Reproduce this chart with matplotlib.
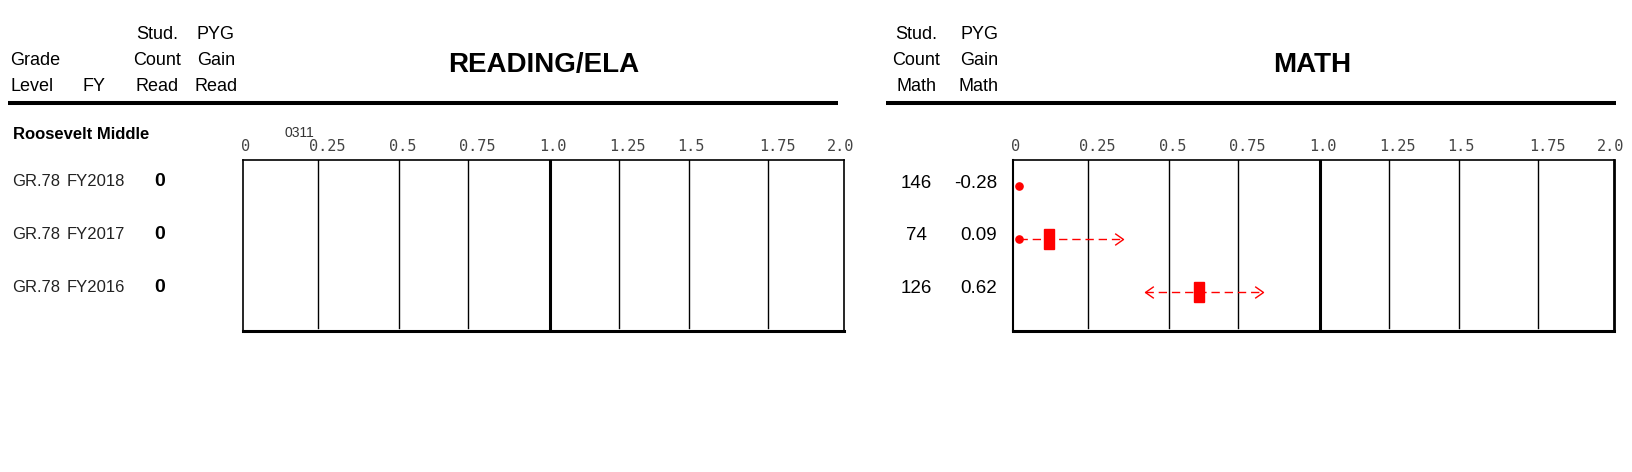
import numpy as np
import matplotlib
matplotlib.use("Agg")
import matplotlib.pyplot as plt
from matplotlib import font_manager
from matplotlib.transforms import blended_transform_factory
from matplotlib.patches import Rectangle
from matplotlib.path import Path
from matplotlib.lines import Line2D

W, H = 1632, 472

# ---- data ----
school = "Roosevelt Middle"
school_code = "0311"
grades = ["GR.78", "GR.78", "GR.78"]
years = ["FY2018", "FY2017", "FY2016"]
read_count = [0, 0, 0]
math_count = [146, 74, 126]
math_gain = [-0.28, 0.09, 0.62]
# where the marks sit on the 0..2 scale
math_lo = [0.02, 0.02, 0.44]
math_mid = [np.nan, 0.12, 0.619]
math_hi = [0.02, 0.366, 0.832]
math_lo_dot = [True, True, False]   # left end drawn as a dot, not an arrow
tick_labels = ["0", "0.25", "0.5", "0.75", "1.0", "1.25", "1.5", "1.75", "2.0"]
tick_pos = [0.01, 0.28, 0.53, 0.78, 1.03, 1.28, 1.49, 1.78, 1.99]
grid_pos = [0.25, 0.52, 0.75, 1.02, 1.25, 1.485, 1.747]

names = {f.name for f in font_manager.fontManager.ttflist}
have_narrow = "Liberation Sans Narrow" in names
narrow = ["Liberation Sans Narrow", "Liberation Sans"] if have_narrow else ["Liberation Sans"]
plt.rcParams["font.family"] = ["Liberation Sans", "DejaVu Sans"]

RED = "#ff0000"

fig = plt.figure(figsize=(W / 100, H / 100), dpi=100)


def fx(x):
    return x / W


def fy(y):
    return 1 - y / H


def panel(left):
    ax = fig.add_axes([fx(left), fy(331), 601 / W, 171 / H])
    ax.set_xlim(0, 2)
    ax.set_ylim(2.74, -0.49)
    ax.set_yticks([])
    ax.xaxis.tick_top()
    ax.set_xticks(tick_pos, tick_labels, fontfamily="DejaVu Sans Mono",
                  fontsize=11, color="#444")
    ax.tick_params(axis="x", length=0, pad=4)
    for g in grid_pos:
        lw = 2.2 if abs(g - 1) < 0.05 else 1.0
        ax.axvline(g, ymin=0.02, ymax=1, color="black", lw=lw)
    for s in ["top", "left", "right"]:
        ax.spines[s].set_linewidth(1.2)
    ax.spines["bottom"].set_linewidth(2.2)
    return ax


ax_r = panel(243)
ax_m = panel(1013)
ax_m.spines["right"].set_linewidth(2.0)
ax_m.spines["left"].set_linewidth(1.5)

ax_r.text(0.186, 1.158, school_code, transform=blended_transform_factory(ax_r.transData, ax_r.transAxes),
          ha="center", va="center", fontsize=10, color="#333")

# header texts
hdr = dict(fontsize=13, va="baseline")
fig.text(fx(10), fy(65), "Grade", ha="left", **hdr)
fig.text(fx(10), fy(91), "Level", ha="left", **hdr)
fig.text(fx(82), fy(91), "FY", ha="left", **hdr)
for cx, lines in [(157, ["Stud.", "Count", "Read"]), (216, ["PYG", "Gain", "Read"]),
                  (916, ["Stud.", "Count", "Math"]), (979, ["PYG", "Gain", "Math"])]:
    for t, by in zip(lines, [39, 65, 91]):
        fig.text(fx(cx), fy(by), t, ha="center", **hdr)

tsize = 25 if have_narrow else 20
fig.text(fx(544), fy(72), "READING/ELA", ha="center", va="baseline",
         family=narrow, fontsize=tsize, fontweight="bold")
fig.text(fx(1312), fy(72), "MATH", ha="center", va="baseline",
         family=narrow, fontsize=tsize, fontweight="bold")

for x0, x1 in [(8, 838), (886, 1616)]:
    fig.add_artist(Line2D([fx(x0), fx(x1)], [fy(103), fy(103)], color="black",
                          lw=2.9, solid_capstyle="butt"))

fig.text(fx(13), fy(139), school, ha="left", va="baseline", fontsize=12, fontweight="bold")

# row texts
tr_r = blended_transform_factory(fig.transFigure, ax_r.transData)
tr_m = blended_transform_factory(fig.transFigure, ax_m.transData)
for i in range(len(years)):
    fig.text(fx(12), i, grades[i], transform=tr_r, ha="left", va="baseline",
             fontsize=12, color="#222")
    fig.text(fx(67), i, years[i], transform=tr_r, ha="left", va="baseline",
             fontsize=12, color="#222")
    fig.text(fx(160), i, str(read_count[i]), transform=tr_r, ha="center", va="baseline",
             family=narrow, fontsize=14, fontweight="bold")
    fig.text(fx(916), i + 0.03, str(math_count[i]), transform=tr_m, ha="center",
             va="baseline", fontsize=13.5)
    fig.text(fx(997), i + 0.03, f"{math_gain[i]:.2f}", transform=tr_m, ha="right",
             va="baseline", fontsize=13.5)

# math marks
chev_r = Path([(-1, 0.7), (0, 0), (-1, -0.7)], [Path.MOVETO, Path.LINETO, Path.LINETO])
chev_l = Path([(1, 0.7), (0, 0), (1, -0.7)], [Path.MOVETO, Path.LINETO, Path.LINETO])
for i in range(len(math_lo)):
    lo, hi, mid = math_lo[i], math_hi[i], math_mid[i]
    if hi > lo:
        ax_m.plot([lo, hi], [i, i], color=RED, lw=1.0, dashes=[6, 3.5], zorder=3)
        ax_m.plot(hi, i, marker=chev_r, ms=12, mfc="none", mec=RED, mew=1.0, zorder=4)
    if math_lo_dot[i]:
        ax_m.plot(lo, i, marker="o", ms=5.2, color=RED, zorder=5)
    else:
        ax_m.plot(lo, i, marker=chev_l, ms=12, mfc="none", mec=RED, mew=1.0, zorder=4)
    if not np.isnan(mid):
        ax_m.add_patch(Rectangle((mid - 0.0165, i - 0.19), 0.033, 0.38, color=RED, zorder=5))

fig.savefig("out.png", dpi=100)
